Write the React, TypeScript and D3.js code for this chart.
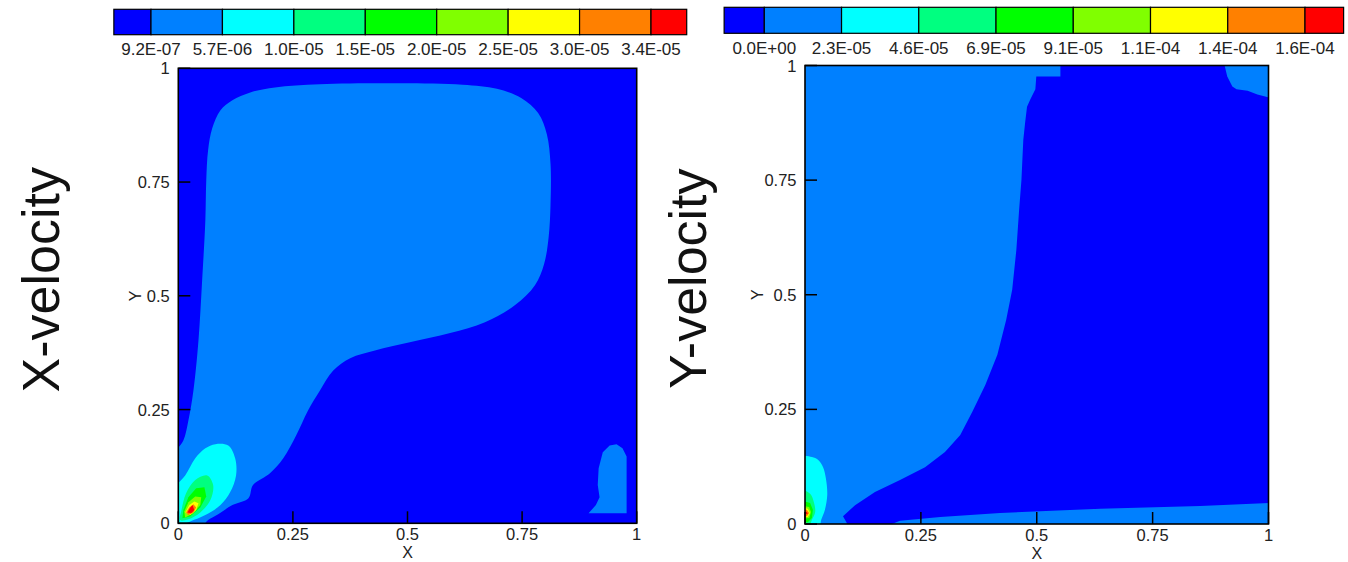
import React from 'react'
import * as d3 from 'd3'

const width = 1348
const height = 562

// contour level colours (Tecplot "small rainbow")
const levelColors = ['#0000ff', '#0080ff', '#00ffff', '#00ff80', '#00ff00', '#80ff00', '#ffff00', '#ff8000', '#ff0000']

const xvLegendLabels = ['9.2E-07', '5.7E-06', '1.0E-05', '1.5E-05', '2.0E-05', '2.5E-05', '3.0E-05', '3.4E-05']
const yvLegendLabels = ['0.0E+00', '2.3E-05', '4.6E-05', '6.9E-05', '9.1E-05', '1.1E-04', '1.4E-04', '1.6E-04']

const axisTicks = [0, 0.25, 0.5, 0.75, 1]
const tickLabels = ['0', '0.25', '0.5', '0.75', '1']

type Pt = [number, number]

// ---- X-velocity contours (data coords) ----
const xvMainLobe: Pt[] = [
  [-0.01, 0.149], [0.011, 0.182], [0.022, 0.226], [0.033, 0.292], [0.044, 0.402], [0.052, 0.534],
  [0.059, 0.666], [0.061, 0.754], [0.065, 0.82], [0.074, 0.868], [0.092, 0.908], [0.118, 0.93],
  [0.157, 0.947], [0.211, 0.958], [0.309, 0.965], [0.484, 0.967], [0.62, 0.964], [0.695, 0.955],
  [0.748, 0.935], [0.785, 0.902], [0.804, 0.855], [0.812, 0.79], [0.812, 0.7], [0.808, 0.63],
  [0.798, 0.57], [0.778, 0.523], [0.734, 0.479], [0.669, 0.442], [0.593, 0.418], [0.505, 0.398], [0.429, 0.38],
  [0.375, 0.363], [0.338, 0.336], [0.309, 0.292], [0.283, 0.248], [0.257, 0.193], [0.229, 0.143],
  [0.2, 0.11], [0.163, 0.084], [0.153, 0.055], [0.118, 0.04], [0.087, 0.02], [0.065, 0.007],
  [0.048, -0.01], [-0.01, -0.01],
]
const xvRightBlob: Pt[] = [
  [0.895, 0.022], [0.911, 0.04], [0.919, 0.057], [0.915, 0.084], [0.917, 0.121], [0.926, 0.156],
  [0.941, 0.171], [0.956, 0.174], [0.969, 0.165], [0.978, 0.147], [0.978, 0.022],
]
const xvCyan: Pt[] = [
  [-0.01, 0.073], [0.015, 0.105], [0.037, 0.143], [0.059, 0.165], [0.081, 0.174], [0.109, 0.171],
  [0.124, 0.143], [0.126, 0.105], [0.113, 0.068], [0.092, 0.04], [0.059, 0.018], [0.026, 0.004], [-0.01, -0.01],
]
const xvSpring: Pt[] = [
  [0.007, 0.029], [0.017, 0.066], [0.037, 0.095], [0.063, 0.105], [0.076, 0.084], [0.07, 0.051],
  [0.048, 0.024], [0.022, 0.009], [0.004, 0.007],
]
const xvGreen: Pt[] = [
  [0.011, 0.029], [0.022, 0.057], [0.039, 0.077], [0.057, 0.079], [0.061, 0.059], [0.048, 0.035],
  [0.026, 0.015], [0.009, 0.011],
]
const xvLime: Pt[] = [
  [0.013, 0.026], [0.022, 0.046], [0.037, 0.059], [0.05, 0.057], [0.048, 0.04], [0.033, 0.022], [0.015, 0.013],
]
const xvYellow: Pt[] = [
  [0.015, 0.024], [0.024, 0.04], [0.035, 0.048], [0.044, 0.044], [0.039, 0.029], [0.026, 0.018],
]
const xvOrange: Pt[] = [
  [0.017, 0.024], [0.024, 0.035], [0.033, 0.042], [0.039, 0.035], [0.033, 0.024], [0.022, 0.018],
]
const xvRed: Pt[] = [[0.02, 0.024], [0.026, 0.035], [0.031, 0.04], [0.035, 0.029], [0.028, 0.022]]

// ---- Y-velocity contours (data coords) ----
const yvDarkCore: Pt[] = [
  [0.551, 1.01], [0.903, 1.01], [0.911, 0.976], [0.922, 0.954], [0.931, 0.948], [0.955, 0.945],
  [0.976, 0.937], [1.01, 0.928], [1.01, 0.5], [1.01, 0.046], [0.853, 0.039], [0.637, 0.033],
  [0.421, 0.024], [0.292, 0.015], [0.205, 0.007], [0.162, -0.01], [0.097, -0.01], [0.082, 0.017],
  [0.108, 0.041], [0.151, 0.07], [0.205, 0.096], [0.259, 0.124], [0.302, 0.157], [0.335, 0.194],
  [0.361, 0.245], [0.389, 0.303], [0.415, 0.369], [0.434, 0.445], [0.447, 0.511], [0.456, 0.598],
  [0.462, 0.686], [0.467, 0.751], [0.469, 0.795], [0.471, 0.838], [0.475, 0.876], [0.479, 0.91],
  [0.486, 0.926], [0.497, 0.948], [0.499, 0.976], [0.551, 0.976],
]
const yvCyan: Pt[] = [
  [-0.01, 0.146], [0.015, 0.146], [0.028, 0.14], [0.039, 0.124], [0.045, 0.1], [0.048, 0.063],
  [0.043, 0.031], [0.035, 0.009], [0.03, -0.01], [-0.01, -0.01],
]
const yvSpring: Pt[] = [[-0.01, 0.074], [0.011, 0.066], [0.019, 0.048], [0.022, 0.026], [0.015, 0.009], [0.006, -0.01], [-0.01, -0.01]]
const yvGreen: Pt[] = [[-0.01, 0.052], [0.011, 0.046], [0.017, 0.031], [0.015, 0.013], [0.006, 0.004], [-0.01, 0.004]]
const yvLime: Pt[] = [[-0.01, 0.041], [0.009, 0.037], [0.013, 0.026], [0.009, 0.013], [-0.01, 0.011]]
const yvYellow: Pt[] = [[-0.01, 0.037], [0.006, 0.033], [0.011, 0.024], [0.006, 0.015], [-0.01, 0.015]]
const yvOrange: Pt[] = [[-0.01, 0.033], [0.004, 0.031], [0.009, 0.024], [0.004, 0.017], [-0.01, 0.017]]
const yvRed: Pt[] = [[-0.01, 0.031], [0.004, 0.026], [0.006, 0.022], [-0.01, 0.02]]

type Region = { level: number; pts: Pt[]; smooth: boolean }

const xvRegions: Region[] = [
  { level: 1, pts: xvMainLobe, smooth: true },
  { level: 1, pts: xvRightBlob, smooth: false },
  { level: 2, pts: xvCyan, smooth: true },
  { level: 3, pts: xvSpring, smooth: true },
  { level: 4, pts: xvGreen, smooth: false },
  { level: 5, pts: xvLime, smooth: false },
  { level: 6, pts: xvYellow, smooth: false },
  { level: 7, pts: xvOrange, smooth: false },
  { level: 8, pts: xvRed, smooth: false },
]

const yvRegions: Region[] = [
  { level: 0, pts: yvDarkCore, smooth: false },
  { level: 2, pts: yvCyan, smooth: true },
  { level: 3, pts: yvSpring, smooth: true },
  { level: 4, pts: yvGreen, smooth: false },
  { level: 5, pts: yvLime, smooth: false },
  { level: 6, pts: yvYellow, smooth: false },
  { level: 7, pts: yvOrange, smooth: false },
  { level: 8, pts: yvRed, smooth: false },
]

const font = 'Liberation Sans, Arial, Helvetica, sans-serif'

function Legend({ x0, x1, y0, y1, labels }) {
  // label positions sit on colour-box boundaries
  const pos = d3.scaleLinear().domain([0, labels.length - 1]).range([x0, x1])
  const edges = d3.range(-1, labels.length + 1).map((i) => {
    if (i === -1) return pos(-0.52)
    if (i === labels.length) return pos(labels.length - 0.5)
    return pos(i)
  })
  return (
    <g>
      {levelColors.map((c, i) => (
        <rect key={i} x={edges[i]} y={y0} width={edges[i + 1] - edges[i]} height={y1 - y0}
          fill={c} stroke="#000" strokeWidth={1.2} />
      ))}
      {labels.map((l, i) => (
        <text key={l} x={pos(i)} y={y1 + 20.5} textAnchor="middle" fontSize={17} fontFamily={font} fill="#222">
          {l}
        </text>
      ))}
    </g>
  )
}

function Panel({ id, left, right, top, bottom, bgLevel, regions, title, titleX, yTitleX }) {
  const x = d3.scaleLinear().domain([0, 1]).range([left, right])
  const y = d3.scaleLinear().domain([0, 1]).range([bottom, top])
  const smoothLine = d3.line<Pt>().x((d) => x(d[0])).y((d) => y(d[1])).curve(d3.curveCatmullRomClosed.alpha(0.5))
  const flatLine = d3.line<Pt>().x((d) => x(d[0])).y((d) => y(d[1])).curve(d3.curveLinearClosed)
  const cx = (left + right) / 2
  const cy = (top + bottom) / 2
  return (
    <g>
      <defs>
        <clipPath id={id}>
          <rect x={left} y={top} width={right - left} height={bottom - top} />
        </clipPath>
      </defs>
      <g clipPath={`url(#${id})`}>
        <rect x={left} y={top} width={right - left} height={bottom - top} fill={levelColors[bgLevel]} />
        {regions.map((r, i) => (
          <path key={i} d={(r.smooth ? smoothLine : flatLine)(r.pts)} fill={levelColors[r.level]} />
        ))}
      </g>
      {axisTicks.map((t) => (
        <g key={t}>
          <line x1={left} x2={left + 12} y1={y(t)} y2={y(t)} stroke="#000" strokeWidth={1.5} />
          <line x1={x(t)} x2={x(t)} y1={bottom} y2={bottom - 12} stroke="#000" strokeWidth={1.5} />
        </g>
      ))}
      <rect x={left} y={top} width={right - left} height={bottom - top} fill="none" stroke="#000" strokeWidth={1.6} />
      {axisTicks.map((t, i) => (
        <text key={'y' + t} x={left - 8.5} y={y(t) + 6} textAnchor="end" fontSize={16.5} fontFamily={font} fill="#222">
          {tickLabels[i]}
        </text>
      ))}
      {axisTicks.map((t, i) => (
        <text key={'x' + t} x={x(t)} y={bottom + 17} textAnchor="middle" fontSize={16.5} fontFamily={font} fill="#222">
          {tickLabels[i]}
        </text>
      ))}
      <text x={cx} y={bottom + 35} textAnchor="middle" fontSize={16} fontFamily={font} fill="#222">X</text>
      <text transform={`translate(${yTitleX},${cy}) rotate(-90)`} textAnchor="middle" fontSize={16} fontFamily={font} fill="#222">
        Y
      </text>
      <text transform={`translate(${titleX},${cy - 16}) rotate(-90)`} textAnchor="middle" fontSize={52} fontFamily={font} fill="#111">
        {title}
      </text>
    </g>
  )
}

export default function App() {
  return (
    <svg width={width} height={height} style={{ position: 'absolute', left: 0, top: 0, background: '#fff' }}>
      <Legend x0={151} x1={651} y0={9.3} y1={34.7} labels={xvLegendLabels} />
      <Legend x0={764.3} x1={1305} y0={7.3} y1={33.3} labels={yvLegendLabels} />
      <Panel id="clipX" left={178.3} right={636.7} top={68.3} bottom={523.3} bgLevel={0}
        regions={xvRegions} title="X-velocity" titleX={59} yTitleX={141} />
      <Panel id="clipY" left={805} right={1268.5} top={65.5} bottom={524} bgLevel={1}
        regions={yvRegions} title="Y-velocity" titleX={706} yTitleX={763} />
    </svg>
  )
}
